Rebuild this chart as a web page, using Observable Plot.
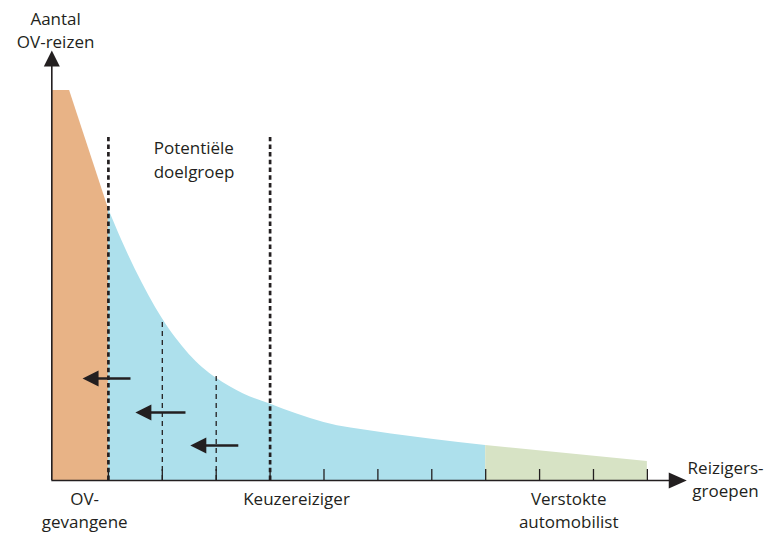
<!DOCTYPE html>
<html>
<head>
<meta charset="utf-8">
<script src="https://cdn.jsdelivr.net/npm/d3@7"></script>
<script src="https://cdn.jsdelivr.net/npm/@observablehq/plot@0.6"></script>
<style>
  body { margin: 0; background: #fff; }
  #chart svg { display: block; }
</style>
</head>
<body>
<div id="chart"></div>
<script>
// Groups along the x axis (units = tick steps), y = number of trips (relative)
const orangeU = [-0.04, 0.28, 1];
const orangeV = [97.5, 97.5, 68];
const blueU = [1, 1.25, 1.5, 1.75, 2, 2.25, 2.5, 2.75, 3, 3.5, 4, 4.5, 5, 6, 7, 8];
const blueV = [68, 60, 52.75, 46.25, 40.5, 35.6, 31.5, 28.2, 25.6, 21.7, 19.1, 16.6, 14.5, 12.1, 10.3, 8.75];
const greenU = [8, 11];
const greenV = [8.75, 4.75];

const tickU = [1, 2, 3, 4, 5, 6, 7, 8, 9, 10, 11];
const dottedU = [1, 4];
const dottedTop = [85.75, 85.75];
const dashedU = [2, 3];
const dashedTop = [40.5, 26.25];

const arrowTipU = [0.52, 1.50, 2.52];
const arrowEndU = [1.41, 2.43, 3.41];
const arrowV = [25.5, 17, 8.75];

const labelText = ["Aantal\nOV-reizen", "OV-\ngevangene", "Keuzereiziger", "Verstokte\nautomobilist", "Reizigers-\ngroepen"];
const labelU = [0.02, 0.56, 4.49, 9.54, 12.45];
const labelV = [112.75, -7.1, -4.25, -7.1, 0.6];
const noteText = ["Potentiële\ndoelgroep"];
const noteU = [1.84];
const noteV = [80.5];

const ink = "#231f20";
const orange = orangeU.map((u, i) => ({u, v: orangeV[i]}));
const blue = blueU.map((u, i) => ({u, v: blueV[i]}));
const green = greenU.map((u, i) => ({u, v: greenV[i]}));
const dotted = dottedU.map((u, i) => ({u, top: dottedTop[i]}));
const dashed = dashedU.map((u, i) => ({u, top: dashedTop[i]}));
const arrows = arrowTipU.map((t, i) => ({tip: t, end: arrowEndU[i], v: arrowV[i]}));
const labels = labelText.map((t, i) => ({t, u: labelU[i], v: labelV[i]}));
const notes = noteText.map((t, i) => ({t, u: noteU[i], v: noteV[i]}));

// filled arrow heads with origin at the tip
const headLeft = {draw(ctx) { ctx.moveTo(0, 0); ctx.lineTo(16, -8); ctx.lineTo(16, 8); ctx.closePath(); }};
const headUp = {draw(ctx) { ctx.moveTo(0, 0); ctx.lineTo(8, 16); ctx.lineTo(-8, 16); ctx.closePath(); }};
const headRight = {draw(ctx) { ctx.moveTo(0, 0); ctx.lineTo(-18, -8); ctx.lineTo(-18, 8); ctx.closePath(); }};

const axisU = -0.05;

const chart = Plot.plot({
  width: 773,
  height: 533,
  margin: 0,
  x: {domain: [-1.002, 13.34], axis: null},
  y: {domain: [-13.25, 120], axis: null},
  style: {background: "#fff", fontFamily: "'Open Sans', sans-serif"},
  marks: [
    Plot.areaY(orange, {x: "u", y: "v", fill: "#e8b386", curve: "linear"}),
    Plot.areaY(blue, {x: "u", y: "v", fill: "#ade0ec", curve: "monotone-x"}),
    Plot.areaY(green, {x: "u", y: "v", fill: "#d7e3c5", curve: "linear"}),
    Plot.ruleX(tickU, {x: d => d, y1: 0, y2: 2.75, stroke: ink, strokeWidth: 1.3}),
    Plot.ruleX(dashed, {x: "u", y1: 0, y2: "top", stroke: ink, strokeWidth: 1.3, strokeDasharray: "5,4"}),
    Plot.ruleX(dotted, {x: "u", y1: 0, y2: "top", stroke: ink, strokeWidth: 2.7, strokeDasharray: "4.5,3.2"}),
    // axes
    Plot.ruleX([axisU], {y1: 0, y2: 104, stroke: ink, strokeWidth: 1.6}),
    Plot.ruleY([0], {x1: axisU, x2: 11.45, stroke: ink, strokeWidth: 1.6}),
    Plot.dot([{u: axisU, v: 107.5}], {x: "u", y: "v", symbol: headUp, r: 5, fill: ink, stroke: null}),
    Plot.dot([{u: 11.73, v: 0}], {x: "u", y: "v", symbol: headRight, r: 5, fill: ink, stroke: null}),
    // arrows
    Plot.link(arrows, {x1: "end", x2: d => d.tip + 0.2, y1: "v", y2: "v", stroke: ink, strokeWidth: 2.6}),
    Plot.dot(arrows, {x: "tip", y: "v", symbol: headLeft, r: 5, fill: ink, stroke: null}),
    // labels
    Plot.text(labels, {x: "u", y: "v", text: "t", textAnchor: "middle", fontSize: 17, lineHeight: 1.35, fill: ink}),
    Plot.text(notes, {x: "u", y: "v", text: "t", textAnchor: "start", fontSize: 17, lineHeight: 1.4, fill: ink})
  ]
});
document.getElementById("chart").append(chart);
</script>
</body>
</html>
